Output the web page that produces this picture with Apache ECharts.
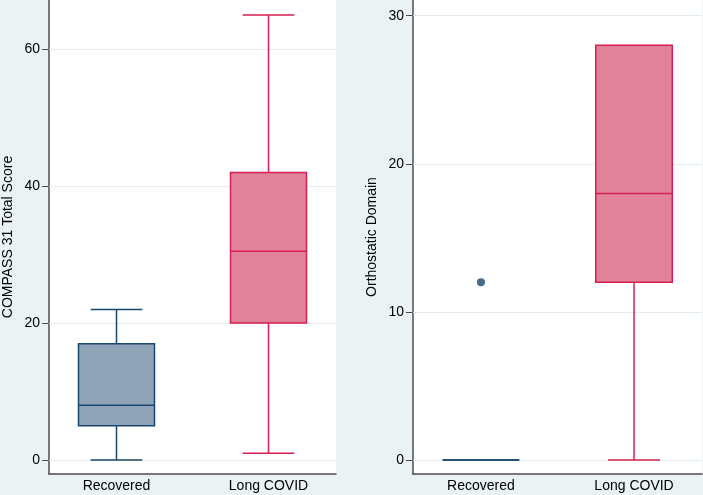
<!DOCTYPE html>
<html><head><meta charset="utf-8">
<script src="https://cdn.jsdelivr.net/npm/echarts@6/dist/echarts.min.js"></script>
<style>html,body{margin:0;padding:0;background:#eaf2f3}#c{width:703px;height:495px}</style>
</head><body><div id="c"></div>
<script>
// ---- data ----
const categories = ['Recovered', 'Long COVID'];
// [min, Q1, median, Q3, max] per category
const compassStats = [[0, 5, 8, 17, 22], [1, 20, 30.5, 42, 65]];
const orthoStats = [[0, 0, 0, 0, 0], [0, 12, 18, 28, 28]];
// outliers: [categoryIndex, value]
const compassOutliers = [];
const orthoOutliers = [[0, 12]];
const compassTicks = [0, 20, 40, 60];
const orthoTicks = [0, 10, 20, 30];
const compassTitle = 'COMPASS 31 Total Score';
const orthoTitle = 'Orthostatic Domain';

// ---- styles ----
const strokeColors = ['#1a476f', '#d81e50'];
const fillColors = ['#90a4b8', '#e0839a'];
const FONT = '"Liberation Sans", Arial, Helvetica, sans-serif';
const BOX_HALF = 0.25, CAP_HALF = 0.17;

function toRows(stats) { return stats.map((s, i) => [i].concat(s)); }

function renderBox(params, api) {
  const x = api.value(0), mn = api.value(1), q1 = api.value(2), md = api.value(3), q3 = api.value(4), mx = api.value(5);
  const i = params.dataIndex;
  const st = { stroke: strokeColors[i], lineWidth: 1.5, fill: null };
  const c = (a, b) => api.coord([a, b]);
  const line = (p, q) => ({ type: 'line', shape: { x1: p[0], y1: p[1], x2: q[0], y2: q[1] }, style: st });
  const tl = c(x - BOX_HALF, q3), br = c(x + BOX_HALF, q1);
  const children = [];
  if (mx > q3) { children.push(line(c(x, q3), c(x, mx))); children.push(line(c(x - CAP_HALF, mx), c(x + CAP_HALF, mx))); }
  if (mn < q1) { children.push(line(c(x, q1), c(x, mn))); children.push(line(c(x - CAP_HALF, mn), c(x + CAP_HALF, mn))); }
  children.push({ type: 'rect', shape: { x: tl[0], y: tl[1], width: br[0] - tl[0], height: br[1] - tl[1] },
    style: { fill: fillColors[i], stroke: strokeColors[i], lineWidth: 1.5 } });
  children.push(line(c(x - BOX_HALF, md), c(x + BOX_HALF, md)));
  return { type: 'group', children: children };
}

function xAxis(gi) {
  return {
    type: 'value', gridIndex: gi, min: -0.444, max: 1.444,
    axisLine: { show: true, onZero: false, lineStyle: { color: '#4d4d4d', width: 1.5 } },
    axisTick: { show: false }, splitLine: { show: false },
    axisLabel: { customValues: [0, 1], formatter: v => categories[Math.round(v)], color: '#000', fontSize: 14, fontFamily: FONT, margin: 5 }
  };
}
function yAxis(gi, min, max, ticks, title) {
  return {
    type: 'value', gridIndex: gi, min: min, max: max,
    name: title, nameLocation: 'middle', nameGap: 34, nameRotate: 90,
    nameTextStyle: { color: '#000', fontSize: 14, fontFamily: FONT },
    axisLine: { show: true, onZero: false, lineStyle: { color: '#4d4d4d', width: 1.5 } },
    axisTick: { show: true, length: 7, customValues: ticks, lineStyle: { color: '#4d4d4d', width: 1 } },
    axisLabel: { customValues: ticks, color: '#000', fontSize: 14, fontFamily: FONT, margin: 9 },
    splitLine: { show: false }
  };
}
function gridLines(gi, ticks) {
  return {
    type: 'line', xAxisIndex: gi, yAxisIndex: gi, data: [], silent: true, z: 1,
    markLine: { silent: true, z: 1, symbol: 'none', label: { show: false }, animation: false,
      lineStyle: { color: '#e4edf0', width: 1, type: 'solid' },
      data: ticks.map(t => ({ yAxis: t })) }
  };
}

const chart = echarts.init(document.getElementById('c'), null, { renderer: 'canvas' });
chart.setOption({
  animation: false,
  backgroundColor: '#eaf2f3',
  grid: [
    { left: 47, top: 0, width: 289, height: 474, show: true, backgroundColor: '#fff', borderWidth: 0 },
    { left: 413, top: 0, width: 289, height: 474, show: true, backgroundColor: '#fff', borderWidth: 0 }
  ],
  xAxis: [xAxis(0), xAxis(1)],
  yAxis: [yAxis(0, -2.04, 67.2, compassTicks, compassTitle), yAxis(1, -0.945, 31.06, orthoTicks, orthoTitle)],
  series: [
    gridLines(0, compassTicks),
    gridLines(1, orthoTicks),
    { type: 'custom', xAxisIndex: 0, yAxisIndex: 0, z: 3, renderItem: renderBox,
      encode: { x: 0, y: [1, 2, 3, 4, 5] }, data: toRows(compassStats) },
    { type: 'custom', xAxisIndex: 1, yAxisIndex: 1, z: 3, renderItem: renderBox,
      encode: { x: 0, y: [1, 2, 3, 4, 5] }, data: toRows(orthoStats) },
    { type: 'scatter', xAxisIndex: 0, yAxisIndex: 0, z: 4, symbolSize: 8, itemStyle: { color: strokeColors[0] }, data: compassOutliers },
    { type: 'scatter', xAxisIndex: 1, yAxisIndex: 1, z: 4, symbolSize: 8, itemStyle: { color: strokeColors[0] }, data: orthoOutliers }
  ]
});
</script></body></html>
